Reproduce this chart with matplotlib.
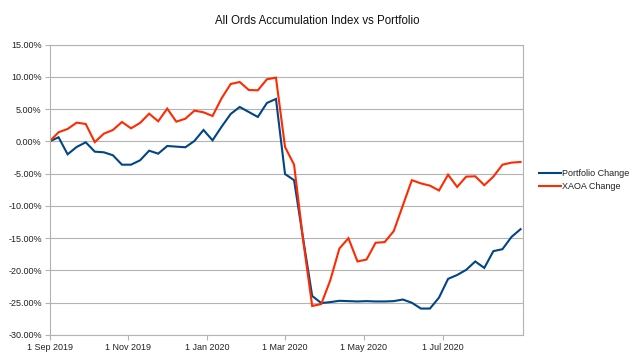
import datetime as dt
import matplotlib
matplotlib.use("Agg")
import matplotlib.pyplot as plt
import matplotlib.dates as mdates
from matplotlib.ticker import FuncFormatter, FixedLocator

plt.rcParams['font.family'] = ['Liberation Sans', 'DejaVu Sans']

title = "All Ords Accumulation Index vs Portfolio"
series_names = ["Portfolio Change", "XAOA Change"]

start_date = dt.date(2019, 9, 1)
n_weeks = 53
dates = [start_date + dt.timedelta(days=7 * i) for i in range(n_weeks)]

portfolio_change = [
    0.0, 0.65, -1.99, -0.85, -0.13, -1.58, -1.68, -2.14, -3.6, -3.6,
    -2.92, -1.43, -1.89, -0.7, -0.8, -0.9, 0.08, 1.78, 0.18, 2.29,
    4.26, 5.35, 4.57, 3.8, 5.97, 6.59, -5.05, -6.0, -15.1, -23.95,
    -25.05, -24.9, -24.7, -24.75, -24.8, -24.75, -24.8, -24.8, -24.75, -24.5,
    -25.0, -25.9, -25.9, -24.2, -21.3, -20.7, -19.9, -18.6, -19.6, -17.0,
    -16.7, -14.8, -13.6,
]
xaoa_change = [
    0.0, 1.43, 1.94, 2.92, 2.71, -0.1, 1.21, 1.78, 3.02, 2.04,
    2.87, 4.31, 3.13, 5.09, 3.07, 3.53, 4.78, 4.52, 3.95, 6.7,
    8.91, 9.22, 7.98, 7.93, 9.64, 9.89, -0.85, -3.6, -15.3, -25.5,
    -25.2, -21.5, -16.6, -15.0, -18.6, -18.3, -15.7, -15.6, -13.9, -9.95,
    -6.0, -6.5, -6.85, -7.6, -5.15, -7.05, -5.45, -5.4, -6.78, -5.45,
    -3.6, -3.28, -3.18,
]

x_ticks = [dt.date(2019, 9, 1), dt.date(2019, 11, 1), dt.date(2020, 1, 1),
           dt.date(2020, 3, 1), dt.date(2020, 5, 1), dt.date(2020, 7, 1)]
y_ticks = [15, 10, 5, 0, -5, -10, -15, -20, -25, -30]

colors = ["#004586", "#ff2a00"]
grid_c = "#b3b3b3"

fig = plt.figure(figsize=(6.4, 3.63), dpi=100)
ax = fig.add_axes([49.5 / 640, 1 - 335 / 363, (522.7 - 49.5) / 640, (335 - 44.7) / 363])

for vals, c, name in zip([portfolio_change, xaoa_change], colors, series_names):
    ax.plot(dates, vals, color=c, lw=1.5, label=name, solid_joinstyle='miter')

ax.set_xlim(mdates.date2num(dt.datetime(2019, 9, 1)), mdates.date2num(dt.datetime(2020, 8, 31, 16)))
ax.set_ylim(min(y_ticks), max(y_ticks))
ax.yaxis.set_major_locator(FixedLocator(y_ticks))
ax.yaxis.set_major_formatter(FuncFormatter(lambda v, p: f"{v:.2f}%"))
ax.xaxis.set_major_locator(FixedLocator([mdates.date2num(d) for d in x_ticks]))
ax.xaxis.set_major_formatter(FuncFormatter(
    lambda v, p: (lambda d: f"{d.day} {d:%b %Y}")(mdates.num2date(v))))

ax.grid(axis='y', color=grid_c, lw=0.8)
ax.set_axisbelow(True)
for s in ax.spines.values():
    s.set_color(grid_c)
    s.set_linewidth(0.8)
ax.tick_params(axis='both', colors=grid_c, labelcolor='#222222', labelsize=6.5,
               length=3.6, width=0.8, direction='out')
ax.tick_params(axis='y', pad=2)
ax.tick_params(axis='x', pad=2)

fig.text(317 / 640, 1 - 20.5 / 363, title, ha='center', va='center', fontsize=8.3, color='#111111')

leg = ax.legend(loc='center left', bbox_to_anchor=(539 / 640, 1 - 180.3 / 363),
                bbox_transform=fig.transFigure, frameon=False, fontsize=6.5,
                handlelength=2.4, handletextpad=0.2, labelspacing=0.45,
                borderpad=0, borderaxespad=0)
for t in leg.get_texts():
    t.set_color('#222222')

fig.savefig("out.png", dpi=100)
